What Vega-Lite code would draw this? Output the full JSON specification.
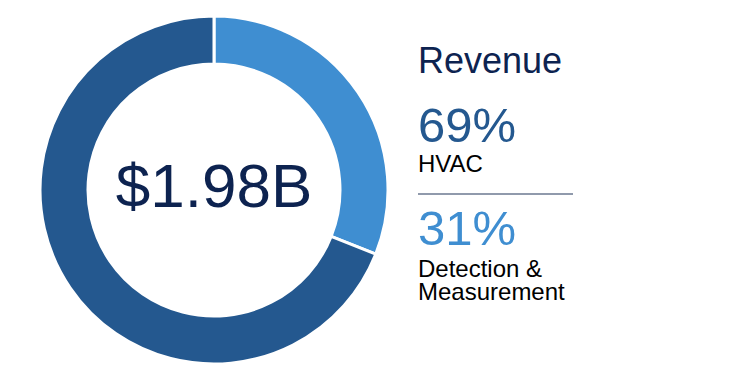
{
  "$schema": "https://vega.github.io/schema/vega-lite/v6.json",
  "padding": 0,
  "background": "white",
  "spacing": 0,
  "bounds": "flush",
  "config": {"view": {"stroke": null}, "font": "Liberation Sans"},
  "hconcat": [
    {
      "width": 428,
      "height": 380,
      "data": {"values": [
        {"segment": "Detection & Measurement", "share": 31, "rank": 1},
        {"segment": "HVAC", "share": 69, "rank": 2}
      ]},
      "layer": [
        {
          "mark": {"type": "arc", "radius": 174, "radius2": 126, "stroke": "white", "strokeWidth": 3},
          "encoding": {
            "theta": {"field": "share", "type": "quantitative", "stack": true},
            "order": {"field": "rank", "type": "quantitative"},
            "color": {"field": "segment", "type": "nominal", "legend": null,
              "scale": {"domain": ["HVAC", "Detection & Measurement"], "range": ["#24588F", "#3F8ED1"]}}
          }
        },
        {
          "data": {"values": [{"total": "$1.98B"}]},
          "mark": {"type": "text", "fontSize": 62, "color": "#0D2350", "baseline": "middle", "align": "center", "dy": -2},
          "encoding": {"text": {"field": "total", "type": "nominal"}}
        }
      ]
    },
    {
      "width": 322,
      "height": 380,
      "data": {"values": [
        {"line": 1, "text": "Revenue", "kind": "title"},
        {"line": 2, "text": "69%", "kind": "pct", "segment": "HVAC"},
        {"line": 3, "text": "HVAC", "kind": "label"},
        {"line": 4, "text": "", "kind": "sep"},
        {"line": 5, "text": "31%", "kind": "pct", "segment": "Detection & Measurement"},
        {"line": 6, "text": "Detection &", "kind": "label"},
        {"line": 7, "text": "Measurement", "kind": "label"}
      ]},
      "resolve": {"scale": {"y": "shared"}},
      "layer": [
        {
          "transform": [{"filter": "datum.kind === 'title'"}],
          "mark": {"type": "text", "fontSize": 36, "color": "#0D2350", "align": "left", "baseline": "alphabetic"},
          "encoding": {
            "x": {"value": -10},
            "y": {"field": "line", "type": "quantitative", "axis": null,
              "scale": {"domain": [1, 2, 3, 4, 5, 6, 7], "range": [73, 142, 172, 194, 245, 277, 300], "zero": false, "nice": false}},
            "text": {"field": "text", "type": "nominal"}
          }
        },
        {
          "transform": [{"filter": "datum.kind === 'pct'"}],
          "mark": {"type": "text", "fontSize": 49, "align": "left", "baseline": "alphabetic"},
          "encoding": {
            "x": {"value": -10},
            "y": {"field": "line", "type": "quantitative", "axis": null},
            "text": {"field": "text", "type": "nominal"},
            "color": {"field": "segment", "type": "nominal", "legend": null,
              "scale": {"domain": ["HVAC", "Detection & Measurement"], "range": ["#285B95", "#52A6E2"]}}
          }
        },
        {
          "transform": [{"filter": "datum.kind === 'label'"}],
          "mark": {"type": "text", "fontSize": 24, "color": "#000000", "align": "left", "baseline": "alphabetic"},
          "encoding": {
            "x": {"value": -10},
            "y": {"field": "line", "type": "quantitative", "axis": null},
            "text": {"field": "text", "type": "nominal"}
          }
        },
        {
          "transform": [{"filter": "datum.kind === 'sep'"}],
          "mark": {"type": "rule", "color": "#6B7890", "strokeWidth": 1.5},
          "encoding": {
            "x": {"value": -10},
            "x2": {"value": 145},
            "y": {"field": "line", "type": "quantitative", "axis": null}
          }
        }
      ]
    }
  ]
}
